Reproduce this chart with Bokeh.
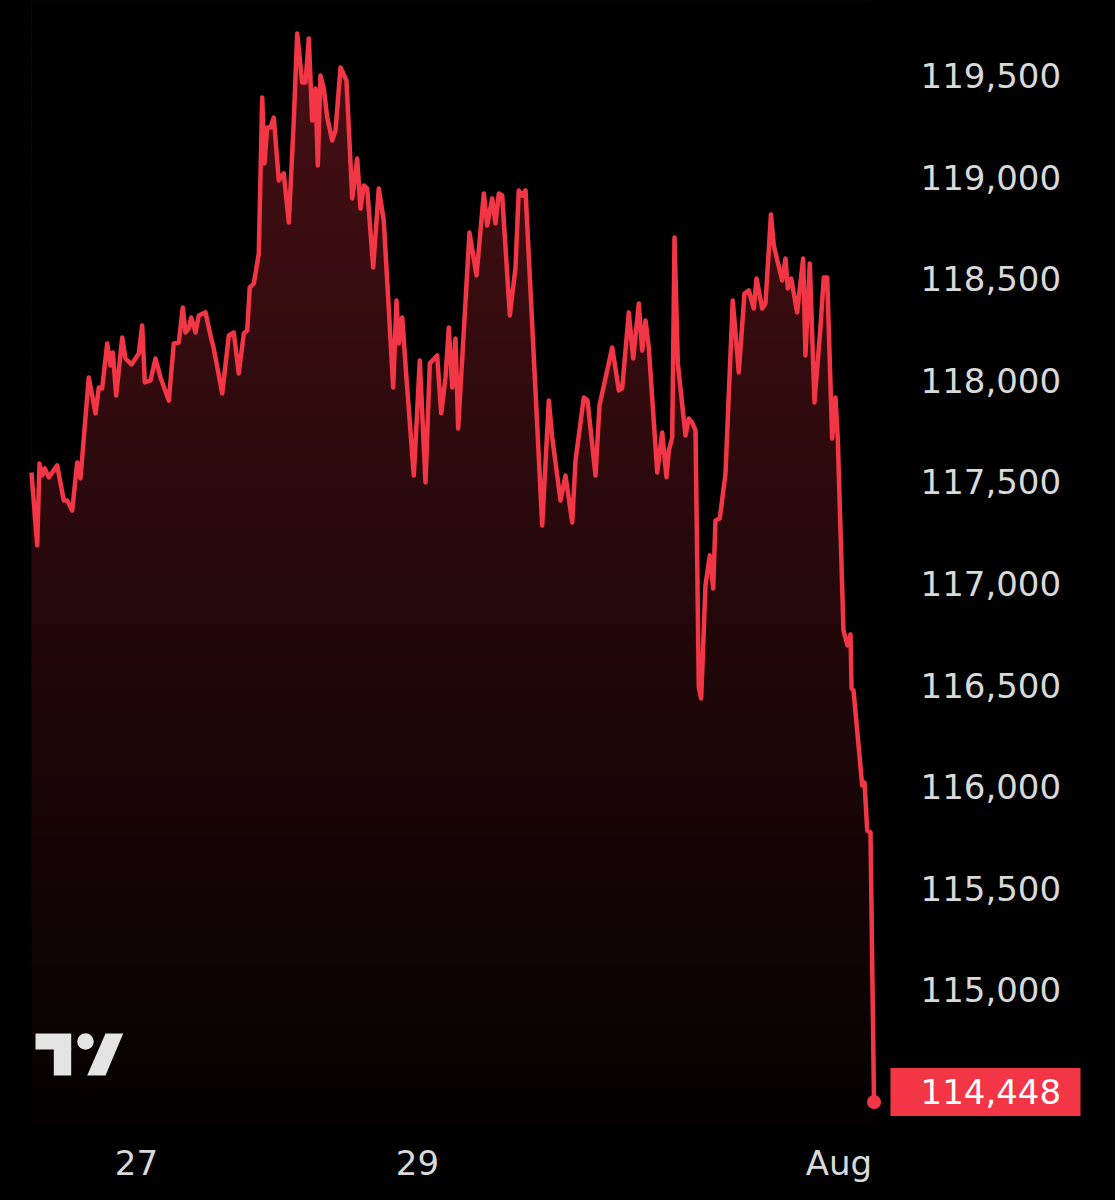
import numpy as np
import pandas as pd
from bokeh.plotting import figure
from bokeh.models import FixedTicker, Range1d
from bokeh.core.properties import value
from bokeh.embed import file_html
from bokeh.resources import INLINE

# ---------------- data ----------------
# hours after 27 Jul 2025 00:00
hours = [
    -17.94, -16.96, -16.57, -16.11, -15.66, -14.98, -13.55, -12.42, -11.84, -10.98,
    -10.13, -9.57, -8.15, -7.00, -6.44, -5.86, -5.00, -4.44, -4.05, -3.47,
    -2.44, -1.88, -0.85, 0.39, 0.97, 1.42, 2.39, 3.25, 4.10, 5.52,
    6.37, 7.23, 7.91, 8.37, 8.93, 9.34, 10.08, 10.64, 11.79, 12.64,
    13.20, 14.64, 15.77, 16.62, 17.47, 18.33, 18.91, 19.35, 20.04, 20.89,
    21.47, 21.86, 22.33, 22.89, 23.45, 24.31, 25.16, 26.02, 26.87, 27.45,
    28.30, 28.87, 29.43, 30.01, 30.58, 30.97, 31.43, 32.00, 32.58, 33.43,
    33.99, 34.85, 35.87, 36.85, 37.70, 38.26, 38.83, 39.41, 40.43, 41.39,
    42.24, 43.85, 44.41, 44.81, 45.39, 46.12, 47.37, 48.39, 49.37, 50.10,
    51.36, 52.05, 52.78, 53.35, 53.93, 54.49, 54.95, 56.88, 58.08, 59.33,
    59.91, 60.76, 61.32, 61.89, 62.47, 63.77, 64.74, 65.30, 65.89, 66.45,
    69.30, 70.43, 71.01, 72.43, 73.28, 74.43, 74.99, 76.41, 77.04, 78.41,
    79.09, 81.26, 82.39, 82.97, 84.09, 84.85, 85.80, 86.38, 86.95, 87.51,
    88.95, 89.80, 90.53, 90.93, 91.51, 91.90, 92.47, 93.78, 94.34, 94.92,
    95.49, 96.05, 96.46, 97.19, 97.93, 98.51, 98.90, 99.63, 100.61, 101.85,
    102.88, 103.85, 104.59, 105.44, 105.91, 106.88, 107.44, 108.38, 108.86, 110.29,
    110.86, 111.25, 111.83, 112.85, 113.88, 114.27, 115.01, 115.81, 116.83, 117.40,
    117.98, 118.83, 119.40, 119.79, 120.76, 121.45, 121.97, 122.14, 122.48, 123.96,
    124.36, 124.82, 125.38, 125.98,
]
prices = [
    117546, 117187, 117590, 117531, 117566, 117522, 117581, 117408, 117408, 117359,
    117595, 117517, 118014, 117837, 117964, 117960, 118181, 118073, 118137, 117925,
    118210, 118107, 118078, 118132, 118270, 117989, 117999, 118107, 118014, 117900,
    118181, 118186, 118358, 118235, 118255, 118309, 118235, 118319, 118334, 118220,
    118156, 117935, 118220, 118235, 118033, 118230, 118245, 118457, 118476, 118624,
    119392, 119067, 119244, 119244, 119293, 118983, 119018, 118776, 119278, 119707,
    119465, 119465, 119682, 119278, 119436, 119057, 119500, 119436, 119293, 119180,
    119229, 119539, 119475, 118895, 119091, 118845, 118959, 118944, 118555, 118944,
    118786, 117964, 118393, 118181, 118309, 118009, 117531, 118097, 117497, 118083,
    118122, 117837, 118014, 118260, 117964, 118206, 117763, 118727, 118516, 118919,
    118762, 118895, 118772, 118919, 118909, 118319, 118555, 118934, 118909, 118934,
    117285, 117900, 117718, 117408, 117531, 117300, 117605, 117915, 117900, 117531,
    117876, 118161, 117950, 117960, 118334, 118107, 118378, 118146, 118294, 118161,
    117546, 117743, 117522, 117654, 117718, 118703, 118083, 117728, 117812, 117792,
    117753, 116488, 116434, 116990, 117138, 116975, 117310, 117320, 117541, 118393,
    118038, 118427, 118442, 118353, 118501, 118353, 118378, 118816, 118663, 118491,
    118599, 118452, 118501, 118334, 118599, 118122, 118575, 117891, 118260, 118506,
    118506, 117713, 117915, 117713, 116769, 116695, 116749, 116483, 116473, 116006,
    116020, 115784, 115774, 114448,
]
base_date = "2025-07-27"
y_ticks = [115000, 115500, 116000, 116500, 117000, 117500, 118000, 118500, 119000, 119500]
x_tick_dates = ["2025-07-27", "2025-07-29", "2025-08-01"]
x_tick_labels = ["27", "29", "Aug"]

# view window
view_start_hours = -23.23
view_end_hours = 167.23
y_min, y_max = 114332, 119869

# ---------------- styling ----------------
RED = "#f23645"
BG = "#000000"
TXT = "#d9d9d9"
FONT = "DejaVu Sans"
FS = "34px"

W, H = 1115, 1200
BB = 75
FW, FH = W, H - BB

base = pd.Timestamp(base_date)
ms_hour = 3600 * 1000.0
base_ms = base.value / 1e6
t_ms = np.array([base_ms + h * ms_hour for h in hours])
p_arr = np.array(prices, dtype=float)
x0 = base_ms + view_start_hours * ms_hour
x1 = base_ms + view_end_hours * ms_hour

p = figure(width=W, height=H, x_axis_type="datetime",
           x_range=Range1d(x0, x1), y_range=Range1d(y_min, y_max),
           output_backend="svg", toolbar_location=None,
           min_border_left=0, min_border_right=0, min_border_top=0, min_border_bottom=BB,
           background_fill_color=BG, border_fill_color=BG)
p.outline_line_color = None
p.grid.visible = False
p.yaxis.visible = False

# helpers: page pixel -> data (frame starts at page x=0, y=0)
def px(xp):
    return x0 + xp / FW * (x1 - x0)

def py(yp):
    return y_max - yp / FH * (y_max - y_min)

unit_per_px = (y_max - y_min) / FH

# gradient fill under the line (bands), then black mask above the line
n_bands = 90
edges = np.linspace(y_min, y_max, n_bands + 1)
a_top, a_bot = 0.30, 0.02
cols = []
for i in range(n_bands):
    f = ((edges[i] + edges[i + 1]) / 2 - y_min) / (y_max - y_min)
    a = a_bot + (a_top - a_bot) * f
    cols.append("#%02x%02x%02x" % (int(242 * a), int(54 * a), int(69 * a)))
step = edges[1] - edges[0]
tops = np.minimum(edges[1:] + step * 0.3, y_max)
p.quad(left=t_ms[0], right=t_ms[-1], bottom=edges[:-1], top=tops,
       fill_color=cols, line_color=None)
p.varea(x=t_ms, y1=p_arr, y2=y_max + (y_max - y_min), fill_color=BG)

# price line and last-point dot
p.line(t_ms, p_arr, line_color=RED, line_width=4.5, line_join="round")
p.scatter([t_ms[-1]], [p_arr[-1]], size=14, fill_color=RED, line_color=None)

# price scale labels
lab_x = px(920)
p.text(x=[lab_x] * len(y_ticks), y=y_ticks, text=[f"{v:,}" for v in y_ticks],
       text_align="left", text_baseline="middle", text_font=value(FONT),
       text_font_size=FS, text_color=TXT)

# last price tag
tag_y = p_arr[-1] + 10 * unit_per_px
p.rect(x=[px(985)], y=[tag_y], width=190, height=48, width_units="screen",
       height_units="screen", fill_color=RED, line_color=None)
p.text(x=[lab_x], y=[tag_y], text=[f"{prices[-1]:,}"], text_align="left",
       text_baseline="middle", text_font=value(FONT), text_font_size=FS,
       text_color="#ffffff")

# TradingView logo
LOGO = "#e4e4e4"
p.quad(left=[px(35), px(53.3)], right=[px(70.7), px(70.7)],
       top=[py(1033), py(1048)], bottom=[py(1049), py(1075)],
       fill_color=LOGO, line_color=None)
p.scatter([px(85)], [py(1041)], size=16.6, fill_color=LOGO, line_color=None)
p.patch([px(105), px(122.7), px(105), px(86.7)], [py(1033), py(1033), py(1075), py(1075)],
        fill_color=LOGO, line_color=None)

# time axis
x_tick_ms = [int(pd.Timestamp(d).value // 10**6) for d in x_tick_dates]
xa = p.xaxis[0]
xa.ticker = FixedTicker(ticks=x_tick_ms)
xa.major_label_overrides = {k: v for k, v in zip(x_tick_ms, x_tick_labels)}
xa.axis_line_color = None
xa.major_tick_line_color = None
xa.minor_tick_line_color = None
xa.major_tick_out = 0
xa.major_tick_in = 0
xa.major_label_standoff = 17
xa.major_label_text_color = TXT
xa.major_label_text_font = FONT
xa.major_label_text_font_size = FS

html = file_html(p, INLINE)
html = html.replace(
    "</head>",
    "<style>html, body { background-color: #000000 !important; margin: 0 !important;"
    " padding: 0 !important; }</style></head>", 1)
open("out.html", "w").write(html)
